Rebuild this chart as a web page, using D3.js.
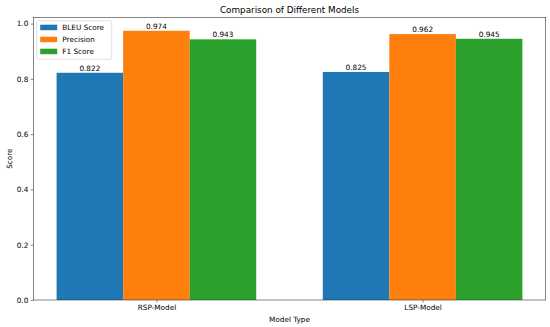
<!DOCTYPE html>
<html>
<head>
<meta charset="utf-8">
<script src="https://cdn.jsdelivr.net/npm/d3@7"></script>
<style>
  body { margin: 0; background: #fff; }
  svg text { font-family: "DejaVu Sans", sans-serif; fill: #000; }
</style>
</head>
<body>
<svg id="chart" width="550" height="327"></svg>
<script>
var models = ["RSP-Model", "LSP-Model"];
var metrics = ["BLEU Score", "Precision", "F1 Score"];
var bleu = [0.822, 0.825];
var precision = [0.974, 0.962];
var f1 = [0.943, 0.945];
var yTicks = [0.0, 0.2, 0.4, 0.6, 0.8, 1.0];
var colors = ["#1f77b4", "#ff7f0e", "#2ca02c"];

var series = [bleu, precision, f1];
var plotLeft = 33.3, plotRight = 545.7, plotTop = 17.3, plotBottom = 300;
var barW = 0.25;

var svg = d3.select("#chart");

// numeric x like matplotlib, 5% margins
var x = d3.scaleLinear().domain([-0.4625, 1.4625]).range([plotLeft, plotRight]);
var yMax = 0.974 * 1.05;
var y = d3.scaleLinear().domain([0, yMax]).range([plotBottom, plotTop]);

// bars
series.forEach(function(vals, i) {
  svg.append("g").selectAll("rect")
    .data(vals)
    .enter().append("rect")
    .attr("x", function(d, j) { return x(j + (i - 1) * barW - barW / 2); })
    .attr("width", x(barW) - x(0))
    .attr("y", function(d) { return y(d); })
    .attr("height", function(d) { return plotBottom - y(d); })
    .attr("fill", colors[i]);

  svg.append("g").selectAll("text")
    .data(vals)
    .enter().append("text")
    .attr("x", function(d, j) { return x(j + (i - 1) * barW); })
    .attr("y", function(d) { return y(d) - 2; })
    .attr("text-anchor", "middle")
    .attr("font-size", "7.3px")
    .text(function(d) { return d.toFixed(3); });
});

// axes
var yAxis = d3.axisLeft(y).tickValues(yTicks).tickFormat(d3.format(".1f")).tickSizeOuter(0).tickSize(2.5).tickPadding(2.5);
var gy = svg.append("g").attr("transform", "translate(" + plotLeft + ",0)").call(yAxis);
gy.select(".domain").remove();
gy.selectAll("text").attr("font-size", "7.3px").attr("font-family", "DejaVu Sans, sans-serif");
gy.selectAll("line").attr("stroke", "#333").attr("stroke-width", 0.6);

var xAxis = d3.axisBottom(x).tickValues([0, 1]).tickFormat(function(d) { return models[d]; }).tickSizeOuter(0).tickSize(2.5).tickPadding(2.5);
var gx = svg.append("g").attr("transform", "translate(0," + plotBottom + ")").call(xAxis);
gx.select(".domain").remove();
gx.selectAll("text").attr("font-size", "7.3px").attr("font-family", "DejaVu Sans, sans-serif");
gx.selectAll("line").attr("stroke", "#333").attr("stroke-width", 0.6);

// frame
svg.append("rect")
  .attr("x", plotLeft).attr("y", plotTop)
  .attr("width", plotRight - plotLeft).attr("height", plotBottom - plotTop)
  .attr("fill", "none").attr("stroke", "#333").attr("stroke-width", 0.6);

// title and labels
svg.append("text").attr("x", (plotLeft + plotRight) / 2).attr("y", 12.5)
  .attr("text-anchor", "middle").attr("font-size", "8.8px")
  .text("Comparison of Different Models");
svg.append("text").attr("x", (plotLeft + plotRight) / 2).attr("y", 322)
  .attr("text-anchor", "middle").attr("font-size", "7.3px")
  .text("Model Type");
svg.append("text").attr("transform", "translate(12," + ((plotTop + plotBottom) / 2) + ") rotate(-90)")
  .attr("text-anchor", "middle").attr("font-size", "7.3px")
  .text("Score");

// legend
var lg = svg.append("g").attr("transform", "translate(36.7,20.7)");
lg.append("rect").attr("width", 75).attr("height", 38.6).attr("rx", 2)
  .attr("fill", "#fff").attr("fill-opacity", 0.8).attr("stroke", "#ccc").attr("stroke-width", 0.6);
metrics.forEach(function(m, i) {
  lg.append("rect").attr("x", 3.5).attr("y", 4 + i * 12).attr("width", 17).attr("height", 5.5).attr("fill", colors[i]);
  lg.append("text").attr("x", 25.6).attr("y", 9.5 + i * 12).attr("font-size", "7.3px").text(m);
});
</script>
</body>
</html>
